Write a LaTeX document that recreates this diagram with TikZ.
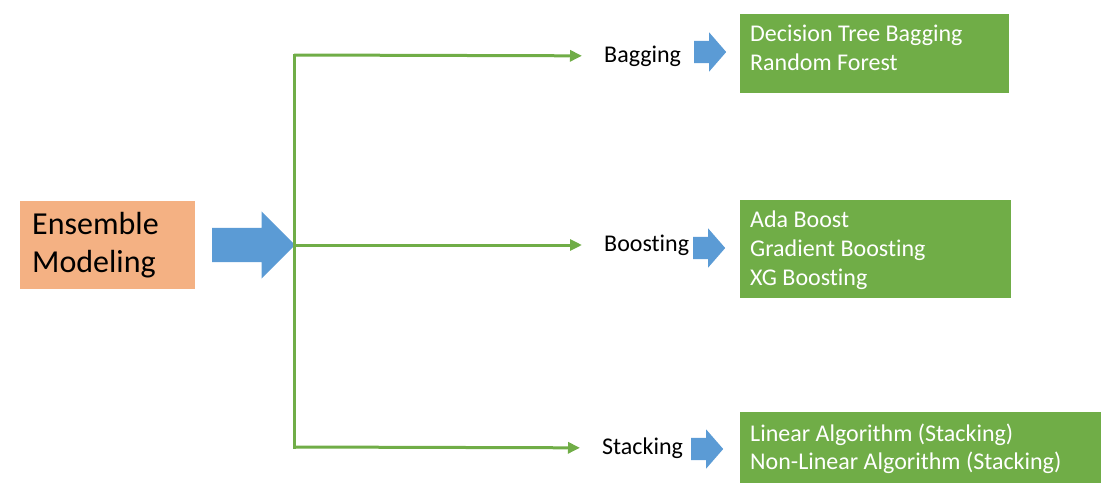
\documentclass[tikz,border=0pt]{standalone}
\usepackage{fontspec}
\setmainfont{Carlito}[Ligatures={NoCommon}]
\usetikzlibrary{positioning,shapes.arrows,arrows.meta}
\definecolor{ensorange}{HTML}{F4B183}
\definecolor{arrowblue}{HTML}{5B9BD5}
\definecolor{branchgreen}{HTML}{70AD47}
\begin{document}
\begin{tikzpicture}[x=1pt,y=-1pt,
  ensbox/.style={fill=ensorange,anchor=west,align=left,inner xsep=12pt,text width=151pt,minimum height=88pt,font=\fontsize{32}{38}\selectfont},
  bigarrow/.style={single arrow,fill=arrowblue,anchor=tail,inner xsep=0pt,inner ysep=17pt,single arrow head extend=16.5pt,minimum height=83pt},
  smallarrow/.style={single arrow,fill=arrowblue,anchor=tail,inner xsep=0pt,inner ysep=11pt,single arrow head extend=8.5pt,single arrow tip angle=98,minimum height=32pt},
  branch/.style={draw=branchgreen,line width=3pt},
  branchtip/.style={-{Triangle[length=12pt,width=11pt]},shorten >=22pt},
  method/.style={anchor=west,inner sep=0pt,font=\fontsize{24}{28}\selectfont},
  algbox/.style={fill=branchgreen,anchor=north west},
  algtext/.style={text=white,align=left,inner sep=0pt,anchor=north west,font=\fontsize{24}{29}\selectfont}]
\useasboundingbox (0,0) rectangle (1117,496);
\node[ensbox] (ens) at (20,245) {Ensemble\\Modeling};
\node[bigarrow] (big) at (212,245) {};
\coordinate (top) at (294,55);
\coordinate (bot) at (294,447);
\node[method] (bag) at (604,56) {Bagging};
\node[method] (boost) at (604,245) {Boosting};
\node[method] (stack) at (602,448) {Stacking};
\draw[branch,line cap=rect] (top) -- (bot);
\draw[branch,branchtip] (top) -- (bag);
\draw[branch,branchtip] (big.tip) -- (boost);
\draw[branch,branchtip] (bot) -- (stack);
\node[smallarrow] (bagarrow) at (694,52) {};
\node[smallarrow] (boostarrow) at (693,248) {};
\node[smallarrow] (stackarrow) at (691,449) {};
\node[algbox,minimum width=269pt,minimum height=79pt] (bagbox) at (740,14) {};
\node[algbox,minimum width=271pt,minimum height=98pt] (boostbox) at (740,200) {};
\node[algbox,minimum width=361pt,minimum height=71pt] (stackbox) at (740,412) {};
\node[algtext,below right=10.5pt and 10pt of bagbox.north west] (bagtext) {Decision Tree Bagging\\Random Forest};
\node[algtext,below right=10.5pt and 10pt of boostbox.north west] (boosttext) {Ada Boost\\Gradient Boosting\\XG Boosting};
\node[algtext,below right=11.5pt and 10pt of stackbox.north west,font=\fontsize{24}{28}\selectfont] (stacktext) {Linear Algorithm (Stacking)\\Non-Linear Algorithm (Stacking)};
\end{tikzpicture}
\end{document}
